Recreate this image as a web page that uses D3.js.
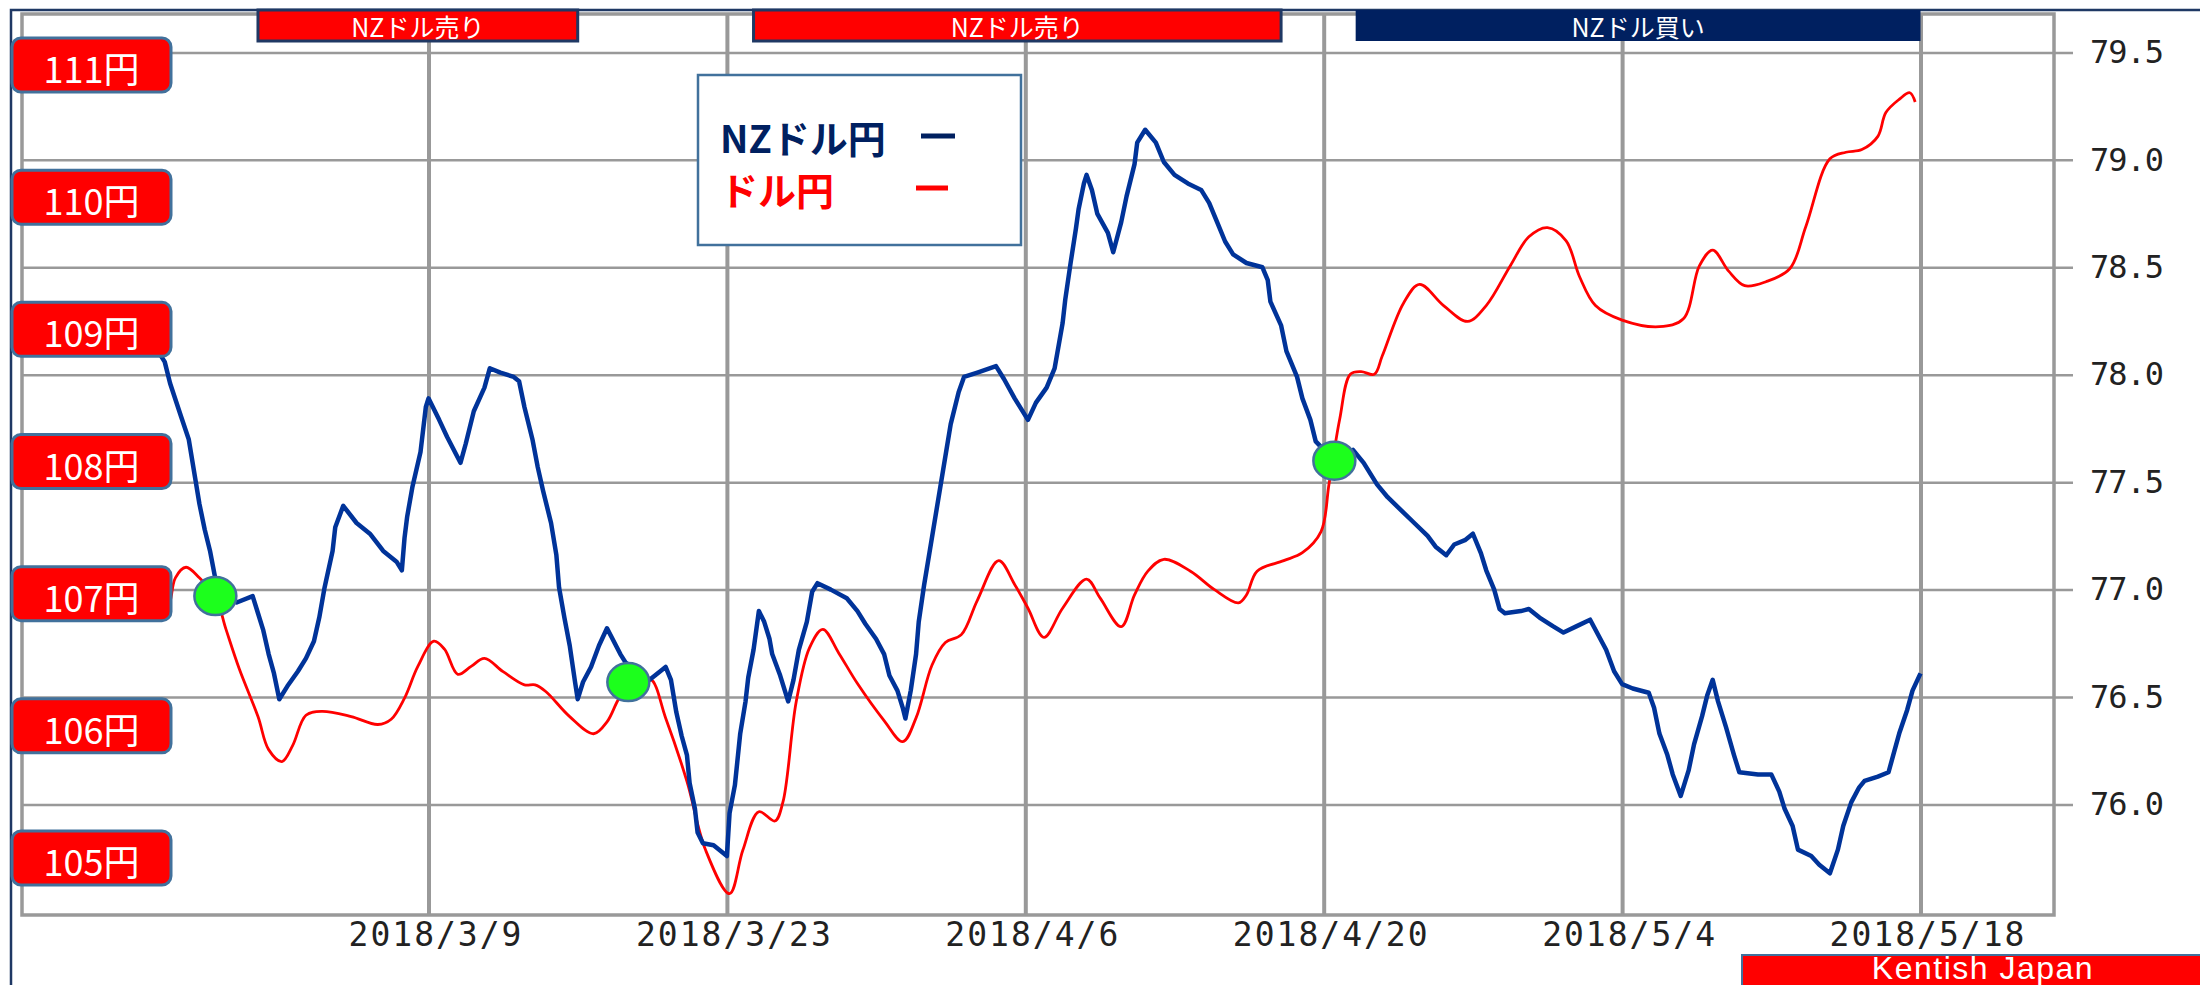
<!DOCTYPE html>
<html>
<head>
<meta charset="utf-8">
<title>NZドル円 / ドル円</title>
<script src="https://cdnjs.cloudflare.com/ajax/libs/d3/7.8.5/d3.min.js"></script>
<style>
  body { margin: 0; background: #fff; }
  svg { display: block; }
</style>
</head>
<body>
<div id="chart"></div>
<script>
"use strict";

// NZD/JPY, right axis
var nzdTimes = ["2/24 06","2/24 15","2/24 21","2/25 09","2/25 18","2/26 00","2/26 06","2/26 12","2/26 18","2/27 00",
  "2/28 00","2/28 18","3/1 00","3/1 06","3/1 12","3/1 18","3/2 00","3/2 09","3/2 21","3/3 06",
  "3/3 15","3/3 21","3/4 03","3/4 12","3/4 15","3/5 00","3/5 15","3/6 06","3/6 21","3/7 12",
  "3/7 18","3/7 21","3/8 00","3/8 06","3/8 15","3/8 21","3/9 00","3/9 12","3/9 21","3/10 12",
  "3/10 18","3/11 03","3/11 15","3/11 21","3/12 09","3/13 00","3/13 06","3/13 12","3/13 21","3/14 03",
  "3/14 09","3/14 18","3/15 00","3/15 03","3/15 09","3/15 15","3/15 21","3/16 00","3/16 06","3/16 15",
  "3/17 00","3/17 09","3/18 00","3/18 06","3/19 09","3/20 03","3/20 09","3/20 15","3/20 21","3/21 03",
  "3/21 06","3/21 12","3/21 15","3/21 21","3/22 09","3/23 00","3/23 03","3/23 09","3/23 15","3/23 21",
  "3/24 00","3/24 06","3/24 12","3/24 18","3/25 00","3/25 03","3/25 12","3/25 21","3/26 03","3/26 09",
  "3/26 18","3/27 00","3/27 06","3/27 21","3/28 15","3/29 03","3/29 12","3/30 00","3/30 09","3/30 15",
  "3/31 00","3/31 06","3/31 09","3/31 15","3/31 21","4/1 00","4/1 06","4/1 12","4/1 18","4/2 00",
  "4/2 06","4/2 12","4/2 21","4/3 03","4/3 18","4/4 15","4/5 00","4/5 12","4/6 03","4/6 12",
  "4/7 00","4/7 09","4/7 18","4/7 21","4/8 03","4/8 09","4/8 12","4/8 18","4/8 21","4/9 03",
  "4/9 09","4/9 21","4/10 03","4/10 12","4/10 18","4/11 03","4/11 06","4/11 15","4/12 03","4/12 12",
  "4/13 00","4/13 15","4/14 06","4/14 15","4/15 00","4/15 09","4/15 18","4/16 09","4/17 03","4/17 09",
  "4/17 12","4/18 00","4/18 06","4/18 18","4/19 00","4/19 09","4/19 15","4/20 12","4/21 09","4/21 21",
  "4/22 12","4/23 00","4/23 15","4/24 06","4/24 21","4/25 06","4/25 18","4/26 03","4/26 15","4/27 00",
  "4/27 09","4/27 15","4/28 00","4/28 06","4/28 12","4/29 06","4/29 15","4/30 03","4/30 18","5/1 06",
  "5/1 21","5/2 12","5/2 21","5/3 06","5/3 15","5/4 00","5/4 12","5/5 06","5/5 12","5/5 18",
  "5/6 03","5/6 09","5/6 18","5/7 03","5/7 09","5/7 18","5/8 00","5/8 06","5/8 12","5/8 21",
  "5/9 06","5/9 12","5/10 09","5/11 00","5/11 09","5/11 15","5/12 00","5/12 06","5/12 21","5/13 06",
  "5/13 18","5/14 03","5/14 09","5/14 18","5/15 03","5/15 09","5/16 00","5/16 12","5/16 18","5/17 00",
  "5/17 09","5/17 15","5/18 00"];
var nzdValues = [78.12,78.06,77.96,77.81,77.70,77.55,77.40,77.28,77.18,77.05,
  76.94,76.97,76.89,76.81,76.70,76.61,76.49,76.55,76.62,76.68,
  76.76,76.87,77.01,77.18,77.29,77.39,77.31,77.26,77.18,77.13,
  77.09,77.24,77.34,77.48,77.64,77.85,77.89,77.79,77.71,77.59,
  77.68,77.83,77.94,78.03,78.01,77.99,77.97,77.85,77.70,77.57,
  77.46,77.31,77.16,77.01,76.87,76.74,76.57,76.49,76.57,76.64,
  76.74,76.82,76.70,76.66,76.58,76.64,76.58,76.43,76.32,76.23,
  76.10,75.98,75.87,75.82,75.81,75.76,75.96,76.09,76.33,76.48,
  76.59,76.72,76.90,76.85,76.77,76.70,76.60,76.48,76.58,76.72,
  76.85,76.99,77.03,77.00,76.96,76.90,76.84,76.77,76.70,76.60,
  76.53,76.45,76.40,76.53,76.70,76.85,77.02,77.17,77.32,77.47,
  77.62,77.77,77.92,77.99,78.01,78.04,77.98,77.89,77.79,77.87,
  77.94,78.03,78.24,78.35,78.52,78.68,78.77,78.89,78.93,78.86,
  78.75,78.66,78.57,78.71,78.83,78.98,79.08,79.14,79.08,78.99,
  78.93,78.89,78.86,78.80,78.71,78.62,78.56,78.52,78.50,78.44,
  78.34,78.23,78.11,77.99,77.89,77.79,77.69,77.60,77.65,77.59,
  77.49,77.43,77.37,77.31,77.25,77.20,77.16,77.21,77.23,77.26,
  77.17,77.09,77.00,76.91,76.89,76.90,76.91,76.87,76.83,76.80,
  76.83,76.86,76.79,76.72,76.62,76.56,76.54,76.52,76.45,76.33,
  76.23,76.14,76.04,76.16,76.28,76.41,76.51,76.58,76.48,76.36,
  76.23,76.15,76.14,76.14,76.06,75.98,75.90,75.79,75.76,75.72,
  75.68,75.79,75.90,76.01,76.08,76.11,76.13,76.15,76.24,76.33,
  76.44,76.53,76.61];

// USD/JPY, read against the yen labels on the left
var usdTimes = ["2/24 15","2/24 21","2/25 03","2/25 15","2/26 06","2/27 00","2/27 12","2/28 03","3/1 00","3/1 12",
  "3/2 03","3/2 15","3/3 06","3/4 00","3/5 09","3/6 15","3/7 06","3/7 21","3/8 12","3/9 06",
  "3/9 18","3/10 09","3/11 00","3/11 15","3/12 12","3/13 12","3/14 00","3/14 12","3/15 15","3/16 18",
  "3/17 09","3/17 21","3/18 09","3/19 09","3/20 03","3/21 03","3/22 00","3/23 03","3/23 18","3/24 12",
  "3/25 06","3/25 15","3/26 06","3/26 21","3/27 12","3/28 06","3/29 03","3/30 09","3/31 06","3/31 21",
  "4/1 15","4/2 06","4/3 00","4/3 18","4/4 18","4/5 12","4/6 03","4/6 21","4/7 18","4/8 21",
  "4/9 12","4/10 12","4/11 03","4/11 18","4/12 12","4/13 18","4/14 21","4/16 00","4/16 09","4/16 21",
  "4/18 03","4/19 00","4/19 21","4/20 06","4/20 18","4/21 06","4/21 18","4/22 09","4/22 18","4/23 18",
  "4/24 12","4/25 15","4/26 18","4/27 15","4/28 18","4/29 15","4/30 12","5/1 09","5/2 00","5/2 18",
  "5/4 00","5/5 18","5/6 21","5/7 15","5/8 06","5/9 00","5/9 18","5/10 18","5/11 21","5/12 15",
  "5/13 18","5/14 12","5/15 06","5/16 00","5/16 09","5/17 00","5/17 12","5/17 18"];
var usdValues = [106.85,106.94,107.12,107.20,107.12,106.98,106.73,106.43,106.07,105.82,
  105.73,105.85,106.08,106.11,106.07,106.01,106.05,106.21,106.45,106.64,
  106.58,106.39,106.45,106.51,106.41,106.31,106.31,106.26,106.07,105.94,
  106.03,106.19,106.32,106.36,106.06,105.58,105.06,104.73,105.06,105.35,
  105.28,105.42,106.18,106.59,106.73,106.55,106.32,106.04,105.88,106.06,
  106.46,106.63,106.69,106.95,107.25,107.07,106.89,106.67,106.89,107.11,
  106.97,106.75,106.99,107.17,107.26,107.17,107.03,106.93,106.99,107.17,
  107.25,107.31,107.47,107.83,108.32,108.66,108.68,108.66,108.80,109.20,
  109.34,109.18,109.06,109.18,109.48,109.70,109.77,109.67,109.40,109.18,
  109.07,109.02,109.08,109.48,109.60,109.44,109.33,109.36,109.46,109.78,
  110.29,110.34,110.36,110.46,110.64,110.74,110.79,110.72];

// crossing markers (green)
var crossTimes = ["2/27 00", "3/18 09", "4/20 12"];
var crossValues = [76.97, 76.57, 77.60];

// signal banners on top
var bannerLabels = ["NZドル売り", "NZドル売り", "NZドル買い"];
var bannerStarts = ["3/1 00", "3/24 06", "4/21 12"];
var bannerEnds = ["3/16 00", "4/18 00", "5/18 00"];
var bannerSides = ["sell", "sell", "buy"];

var yenLabels = [111, 110, 109, 108, 107, 106, 105];
var nzdTicks = [76.0, 76.5, 77.0, 77.5, 78.0, 78.5, 79.0, 79.5];
var dateTicks = ["3/9 00", "3/23 00", "4/6 00", "4/20 00", "5/4 00", "5/18 00"];
var legendNames = ["NZドル円", "ドル円"];
var credit = "Kentish Japan";

var width = 2200, height = 985,
  plot = { left: 22, right: 2054, top: 14, bottom: 915 },
  navy = "#002060", frameBlue = "#41719c", red = "#ff0000", lineBlue = "#003399",
  grid = "#999999";

var parseTime = d3.timeParse("%Y/%m/%d %H");
var t = function(s) { return parseTime("2018/" + s); };

var x = d3.scaleTime()
  .domain([t("3/9 00"), t("5/18 00")])
  .range([428.5, 1920.5]);

var yNzd = d3.scaleLinear()
  .domain([76.0, 79.5])
  .range([804.5, 52.4]);

var yYen = d3.scaleLinear()
  .domain([105, 111])
  .range([858, 65]);

var svg = d3.select("#chart")
  .append("svg")
  .attr("width", width)
  .attr("height", height);

// outer frame (top + left)
svg.append("path")
  .attr("d", "M11," + height + "V10H" + width)
  .attr("fill", "none")
  .attr("stroke", "#1f3864")
  .attr("stroke-width", 2.5);

// right axis + horizontal grid
var yAxis = svg.append("g")
  .attr("transform", "translate(2073,0)")
  .call(d3.axisRight(yNzd)
    .tickValues(nzdTicks)
    .tickSize(-(2073 - plot.left))
    .tickPadding(17)
    .tickFormat(d3.format(".1f")));
yAxis.select(".domain").remove();
yAxis.selectAll(".tick line").attr("stroke", grid).attr("stroke-width", 2.5);
yAxis.selectAll(".tick text")
  .attr("fill", "#222")
  .attr("font-family", "'DejaVu Sans Mono', monospace")
  .attr("font-size", 32)
  .attr("letter-spacing", -1);

// date axis + vertical grid
var xAxis = svg.append("g")
  .attr("transform", "translate(0," + plot.bottom + ")")
  .call(d3.axisBottom(x)
    .tickValues(dateTicks.map(t))
    .tickSize(-(plot.bottom - plot.top))
    .tickPadding(8)
    .tickFormat(d3.timeFormat("%Y/%-m/%-d")));
xAxis.select(".domain").remove();
xAxis.selectAll(".tick line").attr("stroke", grid).attr("stroke-width", 4);
xAxis.selectAll(".tick text")
  .attr("fill", "#222")
  .attr("dx", 7)
  .attr("font-family", "'DejaVu Sans Mono', monospace")
  .attr("font-size", 33)
  .attr("letter-spacing", 2);

// plot border
svg.append("rect")
  .attr("x", plot.left)
  .attr("y", plot.top)
  .attr("width", plot.right - plot.left)
  .attr("height", plot.bottom - plot.top)
  .attr("fill", "none")
  .attr("stroke", grid)
  .attr("stroke-width", 3.5);

// lines
var usdData = usdTimes.map(function(s, i) { return { t: t(s), v: usdValues[i] }; });
var nzdData = nzdTimes.map(function(s, i) { return { t: t(s), v: nzdValues[i] }; });

svg.append("path")
  .datum(usdData)
  .attr("fill", "none")
  .attr("stroke", red)
  .attr("stroke-width", 2.8)
  .attr("d", d3.line()
    .curve(d3.curveCatmullRom.alpha(0.5))
    .x(function(d) { return x(d.t); })
    .y(function(d) { return yYen(d.v); }));

svg.append("path")
  .datum(nzdData)
  .attr("fill", "none")
  .attr("stroke", lineBlue)
  .attr("stroke-width", 4.5)
  .attr("stroke-linejoin", "round")
  .attr("d", d3.line()
    .x(function(d) { return x(d.t); })
    .y(function(d) { return yNzd(d.v); }));

// green crossing markers
svg.selectAll(".cross")
  .data(crossTimes)
  .enter().append("ellipse")
  .attr("class", "cross")
  .attr("cx", function(d) { return x(t(d)); })
  .attr("cy", function(d, i) { return yNzd(crossValues[i]); })
  .attr("rx", 21)
  .attr("ry", 19)
  .attr("fill", "#1cff1c")
  .attr("stroke", frameBlue)
  .attr("stroke-width", 2.5);

// yen labels
var yen = svg.selectAll(".yen")
  .data(yenLabels)
  .enter().append("g")
  .attr("class", "yen")
  .attr("transform", function(d) { return "translate(12," + (yYen(d) - 27) + ")"; });
yen.append("rect")
  .attr("width", 159)
  .attr("height", 54)
  .attr("rx", 9)
  .attr("fill", red)
  .attr("stroke", frameBlue)
  .attr("stroke-width", 3);
yen.append("text")
  .attr("x", 79.5)
  .attr("y", 29)
  .attr("text-anchor", "middle")
  .attr("dominant-baseline", "central")
  .attr("fill", "#fff")
  .attr("font-family", "'Noto Sans CJK JP', sans-serif")
  .attr("font-size", 36)
  .text(function(d) { return d + "円"; });

// legend
svg.append("rect")
  .attr("x", 698).attr("y", 75)
  .attr("width", 323).attr("height", 170)
  .attr("fill", "#fff")
  .attr("stroke", frameBlue)
  .attr("stroke-width", 2.5);
var legendColors = [navy, red];
var legend = svg.selectAll(".legend")
  .data(legendNames)
  .enter().append("g")
  .attr("class", "legend")
  .attr("transform", function(d, i) { return "translate(720," + (136 + i * 52) + ")"; });
legend.append("text")
  .attr("dominant-baseline", "central")
  .attr("fill", function(d, i) { return legendColors[i]; })
  .attr("font-family", "'Noto Sans CJK JP', sans-serif")
  .attr("font-weight", "bold")
  .attr("font-size", 38)
  .text(function(d) { return d; });
legend.append("line")
  .attr("x1", function(d, i) { return i ? 196 : 201; })
  .attr("x2", function(d, i) { return i ? 228 : 235; })
  .attr("stroke", function(d, i) { return legendColors[i]; })
  .attr("stroke-width", 5);

// banners
var banner = svg.selectAll(".banner")
  .data(bannerLabels)
  .enter().append("g")
  .attr("class", "banner");
banner.append("rect")
  .attr("x", function(d, i) { return x(t(bannerStarts[i])); })
  .attr("y", 10)
  .attr("width", function(d, i) { return x(t(bannerEnds[i])) - x(t(bannerStarts[i])); })
  .attr("height", 31)
  .attr("fill", function(d, i) { return bannerSides[i] === "buy" ? navy : red; })
  .attr("stroke", function(d, i) { return bannerSides[i] === "buy" ? "none" : "#1f3864"; })
  .attr("stroke-width", 3);
banner.append("text")
  .attr("x", function(d, i) { return (x(t(bannerStarts[i])) + x(t(bannerEnds[i]))) / 2; })
  .attr("y", 26)
  .attr("text-anchor", "middle")
  .attr("dominant-baseline", "central")
  .attr("fill", "#fff")
  .attr("font-family", "'Noto Sans CJK JP', sans-serif")
  .attr("font-size", 25)
  .text(function(d) { return d; });

// credit
svg.append("rect")
  .attr("x", 1742).attr("y", 955)
  .attr("width", 480).attr("height", 40)
  .attr("fill", red)
  .attr("stroke", frameBlue)
  .attr("stroke-width", 2);
svg.append("text")
  .attr("x", 1983).attr("y", 979)
  .attr("text-anchor", "middle")
  .attr("fill", "#fff")
  .attr("font-family", "'Liberation Sans', sans-serif")
  .attr("font-size", 32)
  .attr("letter-spacing", 1.5)
  .text(credit);
</script>
</body>
</html>
